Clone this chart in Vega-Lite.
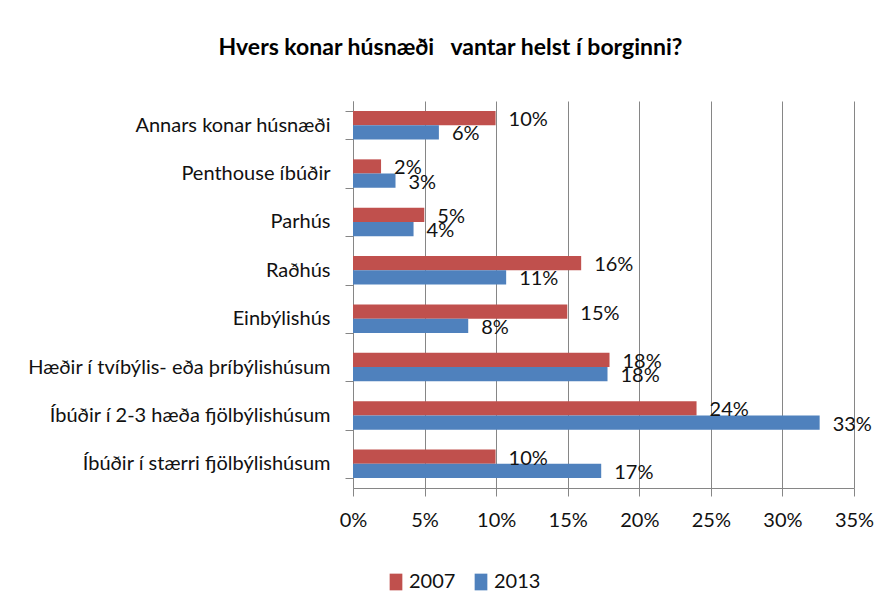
{
  "$schema": "https://vega.github.io/schema/vega-lite/v6.json",
  "width": 501,
  "height": 387,
  "autosize": {"type": "none"},
  "padding": {"left": 353, "top": 101, "right": 31, "bottom": 125},
  "background": "white",
  "title": {
    "text": "Hvers konar húsnæði \u00a0 vantar helst í borginni?",
    "font": "Lato",
    "fontSize": 23,
    "fontWeight": "bold",
    "color": "#000000",
    "anchor": "middle",
    "frame": "group",
    "baseline": "alphabetic",
    "offset": 44,
    "dx": -153,
    "dy": 31
  },
  "data": {
    "values": [
      {"category": "Annars konar húsnæði", "year": "2007", "value": 0.0996},
      {"category": "Annars konar húsnæði", "year": "2013", "value": 0.0600},
      {"category": "Penthouse íbúðir", "year": "2007", "value": 0.0196},
      {"category": "Penthouse íbúðir", "year": "2013", "value": 0.0297},
      {"category": "Parhús", "year": "2007", "value": 0.0498},
      {"category": "Parhús", "year": "2013", "value": 0.0423},
      {"category": "Raðhús", "year": "2007", "value": 0.1594},
      {"category": "Raðhús", "year": "2013", "value": 0.1070},
      {"category": "Einbýlishús", "year": "2007", "value": 0.1497},
      {"category": "Einbýlishús", "year": "2013", "value": 0.0805},
      {"category": "Hæðir í tvíbýlis- eða þríbýlishúsum", "year": "2007", "value": 0.1792},
      {"category": "Hæðir í tvíbýlis- eða þríbýlishúsum", "year": "2013", "value": 0.1778},
      {"category": "Íbúðir í 2-3 hæða fjölbýlishúsum", "year": "2007", "value": 0.2400},
      {"category": "Íbúðir í 2-3 hæða fjölbýlishúsum", "year": "2013", "value": 0.3260},
      {"category": "Íbúðir í stærri  fjölbýlishúsum", "year": "2007", "value": 0.0996},
      {"category": "Íbúðir í stærri  fjölbýlishúsum", "year": "2013", "value": 0.1734}
    ]
  },
  "encoding": {
    "y": {
      "field": "category",
      "type": "nominal",
      "sort": null,
      "scale": {"paddingInner": 0.413, "paddingOuter": 0.2065},
      "axis": {
        "title": null,
        "tickBand": "extent",
        "tickSize": 8,
        "tickColor": "#868686",
        "domainColor": "#868686",
        "labelPadding": 15,
        "labelFont": "Lato",
        "labelFontSize": 20,
        "labelColor": "#111111",
        "labelLimit": 400,
        "grid": false
      }
    },
    "yOffset": {
      "field": "year",
      "type": "nominal",
      "sort": ["2007", "2013"],
      "scale": {"paddingInner": 0, "paddingOuter": 0}
    },
    "x": {
      "field": "value",
      "type": "quantitative",
      "scale": {"domain": [0, 0.35], "nice": false, "zero": true},
      "axis": {
        "title": null,
        "format": ".0%",
        "values": [0, 0.05, 0.1, 0.15, 0.2, 0.25, 0.3, 0.35],
        "tickSize": 8,
        "tickColor": "#868686",
        "domainColor": "#868686",
        "gridColor": "#868686",
        "grid": true,
        "labelPadding": 14,
        "labelFont": "Lato",
        "labelFontSize": 20,
        "labelColor": "#111111",
        "labelFlush": false
      }
    }
  },
  "layer": [
    {
      "mark": {"type": "bar", "stroke": null},
      "encoding": {
        "color": {
          "field": "year",
          "type": "nominal",
          "scale": {"domain": ["2007", "2013"], "range": ["#C0504D", "#4F81BD"]},
          "legend": {
            "title": null,
            "orient": "none",
            "direction": "horizontal",
            "legendX": 33,
            "legendY": 471,
            "padding": 0,
            "symbolType": "M-0.76,-1H0.76V1H-0.76Z",
            "symbolSize": 279,
            "symbolStrokeWidth": 0,
            "labelOffset": 3,
            "columnPadding": 15,
            "labelFont": "Lato",
            "labelFontSize": 20,
            "labelColor": "#111111"
          }
        }
      }
    },
    {
      "mark": {
        "type": "text",
        "align": "left",
        "baseline": "middle",
        "dx": 13,
        "dy": 2,
        "font": "Lato",
        "fontSize": 20,
        "color": "#111111"
      },
      "encoding": {
        "text": {"field": "value", "type": "quantitative", "format": ".0%"}
      }
    }
  ],
  "config": {
    "view": {"stroke": null},
    "axis": {"gridWidth": 1, "domainWidth": 1, "tickWidth": 1}
  }
}
